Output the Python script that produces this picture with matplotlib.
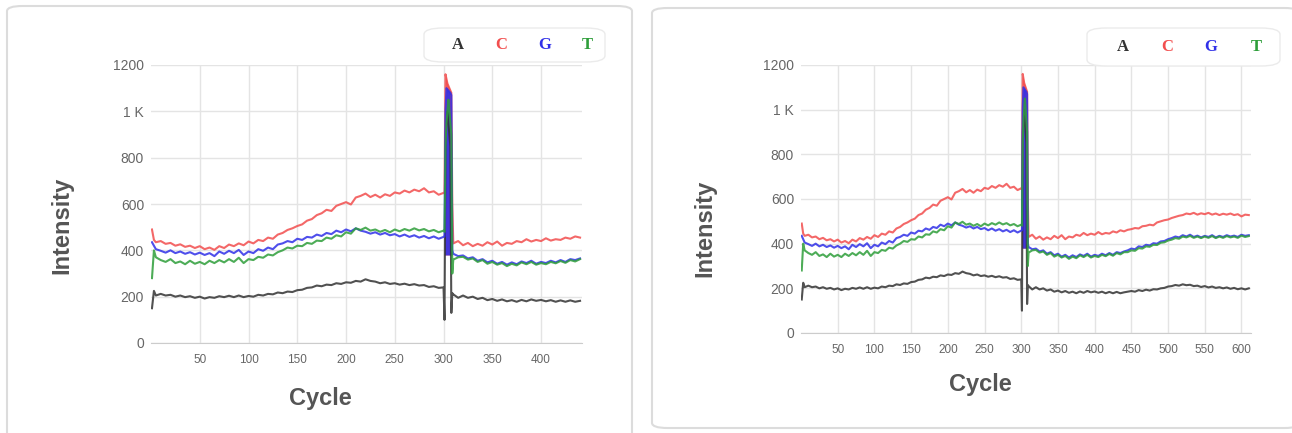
import numpy as np
import matplotlib.pyplot as plt
from matplotlib.patches import FancyBboxPatch

# sample cycles: start, spike, after spike
cyc_pre = [1, 3] + list(range(5, 301, 5))
cyc_spike = [301, 302, 303, 304, 305, 306, 307, 308, 309]
cyc_post = list(range(310, 611, 5))

a_pre = [150, 225, 205, 212, 205, 208, 200, 205, 198, 202, 195, 200, 192, 198, 195, 202, 198, 204,
         198, 205, 198, 203, 200, 208, 205, 212, 210, 218, 215, 222, 220, 228, 230, 238, 240, 248,
         245, 252, 250, 258, 255, 262, 260, 268, 265, 275, 268, 265, 258, 262, 255, 258, 252, 256,
         250, 254, 248, 250, 242, 245, 238, 240]
a_spike = [100, 900, 950, 1000, 950, 900, 850, 130, 215]
a_post = [210, 195, 205, 195, 200, 190, 195, 185, 190, 182, 188, 180, 185, 178, 186, 180, 188, 182,
          186, 180, 185, 178, 184, 178, 184, 178, 182, 185, 188, 185, 192, 188, 194, 190, 196, 195,
          200, 202, 208, 210, 215, 212, 218, 214, 216, 210, 212, 206, 210, 204, 208, 202, 205, 200,
          204, 198, 202, 196, 200, 195, 200]

c_pre = [490, 445, 435, 440, 428, 432, 420, 426, 415, 420, 410, 418, 405, 412, 402, 418, 410, 425,
         418, 430, 422, 438, 430, 445, 440, 455, 450, 468, 475, 488, 495, 505, 512, 528, 535, 552,
         560, 575, 570, 592, 600, 608, 598, 628, 635, 645, 630, 640, 628, 642, 635, 650, 645, 658,
         650, 662, 655, 668, 650, 655, 640, 648]
c_spike = [645, 1160, 1140, 1120, 1110, 1100, 1090, 1080, 600]
c_post = [430, 440, 422, 432, 418, 428, 420, 435, 425, 438, 420, 432, 428, 440, 435, 448, 438, 445,
          440, 452, 442, 448, 445, 455, 450, 460, 455, 462, 465, 470, 468, 478, 480, 485, 482, 495,
          500, 505, 508, 515, 520, 525, 528, 535, 532, 538, 530, 536, 532, 538, 530, 535, 528, 534,
          530, 535, 528, 532, 522, 530, 528]

g_pre = [435, 420, 405, 398, 390, 400, 388, 395, 385, 392, 382, 390, 380, 388, 375, 395, 385, 398,
         388, 402, 380, 395, 388, 405, 398, 412, 405, 425, 430, 440, 435, 450, 445, 458, 455, 468,
         462, 475, 470, 485, 478, 490, 482, 495, 485, 480, 472, 478, 468, 475, 465, 470, 460, 468,
         458, 465, 455, 462, 452, 460, 450, 458]
g_spike = [460, 1000, 1100, 1095, 1090, 1085, 1080, 1070, 400]
g_post = [385, 375, 378, 365, 370, 355, 362, 348, 355, 342, 350, 338, 348, 340, 352, 345, 355, 342,
          350, 345, 355, 348, 358, 350, 362, 358, 365, 370, 378, 375, 388, 385, 395, 392, 402, 400,
          410, 412, 420, 425, 432, 428, 438, 432, 440, 430, 436, 428, 435, 430, 438, 428, 435, 430,
          438, 432, 436, 430, 440, 435, 438]

t_pre = [280, 400, 370, 358, 350, 362, 345, 352, 340, 355, 342, 350, 340, 355, 345, 358, 348, 362,
         350, 368, 345, 362, 358, 372, 368, 382, 378, 392, 400, 412, 408, 420, 418, 432, 428, 442,
         440, 455, 450, 465, 460, 478, 472, 495, 488, 498, 485, 490, 480, 488, 478, 490, 482, 492,
         485, 495, 486, 492, 482, 488, 478, 485]
t_spike = [480, 850, 950, 1000, 1050, 1000, 950, 900, 300]
t_post = [360, 370, 372, 360, 365, 350, 358, 342, 350, 338, 345, 332, 342, 335, 348, 340, 350, 338,
          345, 340, 350, 344, 354, 346, 358, 352, 362, 362, 370, 368, 380, 378, 388, 386, 395, 394,
          404, 406, 414, 418, 425, 422, 432, 428, 435, 426, 432, 425, 432, 426, 434, 425, 432, 426,
          434, 428, 432, 426, 436, 430, 434]

bases = ['A', 'C', 'G', 'T']
colors = {'A': '#333333', 'C': '#f24e4e', 'G': '#3030e8', 'T': '#2e9e3a'}

cycles = np.array(cyc_pre + cyc_spike + cyc_post)
series = {
    'A': np.array(a_pre + a_spike + a_post),
    'C': np.array(c_pre + c_spike + c_post),
    'G': np.array(g_pre + g_spike + g_post),
    'T': np.array(t_pre + t_spike + t_post),
}
spike_fill = {'C': c_spike, 'G': g_spike}

W, H = 1292, 433
fig = plt.figure(figsize=(W / 100, H / 100), dpi=100)
plt.rcParams['font.family'] = ['Liberation Sans', 'DejaVu Sans']


def px(x, y):
    return x / W, 1 - y / H


# cards
for x0, y0, x1, y1 in [(7, 6, 632, 445), (652, 8, 1300, 428)]:
    card = FancyBboxPatch(px(x0, y1), (x1 - x0) / W, (y1 - y0) / H,
                          boxstyle='round,pad=0,rounding_size=0.012',
                          transform=fig.transFigure, facecolor='white',
                          edgecolor='#dcdcdc', lw=1.5, zorder=-10)
    fig.patches.append(card)

panels = [
    dict(rect=(151, 65, 582, 343), xmax=442, xticks=range(50, 401, 50),
         ylab=(62, 225), xlab=(320, 398), leg=(424, 28, 605, 62), letters=[458, 501, 545, 587]),
    dict(rect=(801, 65, 1251, 333), xmax=613, xticks=range(50, 601, 50),
         ylab=(705, 228), xlab=(980, 384), leg=(1087, 28, 1280, 66), letters=[1123, 1167, 1211, 1256]),
]

for p in panels:
    x0, y0, x1, y1 = p['rect']
    ax = fig.add_axes([x0 / W, 1 - y1 / H, (x1 - x0) / W, (y1 - y0) / H], zorder=1)
    m = cycles <= p['xmax']
    # filled spike column
    for b in ['C', 'G']:
        ax.fill_between(cyc_spike, 380, spike_fill[b], color=colors[b], lw=0, alpha=0.9)
    for b in bases:
        ax.plot(cycles[m], series[b][m], color=colors[b], lw=1.5, alpha=0.85)
    ax.set_xlim(0, p['xmax'])
    ax.set_ylim(0, 1200)
    ax.set_yticks([0, 200, 400, 600, 800, 1000, 1200])
    ax.set_yticklabels(['0', '200', '400', '600', '800', '1 K', '1200'])
    ax.set_xticks(list(p['xticks']))
    ax.tick_params(length=0, colors='#666666')
    ax.tick_params(axis='x', pad=8, labelsize=8.5)
    ax.tick_params(axis='y', pad=5, labelsize=10)
    ax.grid(True, color='#e4e4e4', lw=1)
    ax.set_axisbelow(True)
    for s in ['top', 'right', 'left']:
        ax.spines[s].set_visible(False)
    ax.spines['bottom'].set_color('#cccccc')
    ax.set_facecolor('none')

    fx, fy = px(*p['ylab'])
    fig.text(fx, fy, 'Intensity', rotation=90, ha='center', va='center',
             fontsize=17, fontweight='bold', color='#555555')
    fx, fy = px(*p['xlab'])
    fig.text(fx, fy, 'Cycle', ha='center', va='center',
             fontsize=17, fontweight='bold', color='#555555')

    lx0, ly0, lx1, ly1 = p['leg']
    leg = FancyBboxPatch(px(lx0, ly1), (lx1 - lx0) / W, (ly1 - ly0) / H,
                         boxstyle='round,pad=0,rounding_size=0.015',
                         transform=fig.transFigure, facecolor='white',
                         edgecolor='#ebebeb', lw=1, zorder=5)
    fig.patches.append(leg)
    ly = (ly0 + ly1) / 2
    for b, lx in zip(bases, p['letters']):
        fx, fy = px(lx, ly)
        fig.text(fx, fy, b, ha='center', va='center', fontsize=12,
                 fontweight='bold', color=colors[b], family='Liberation Serif', zorder=6)

fig.savefig('out.png', dpi=100)
